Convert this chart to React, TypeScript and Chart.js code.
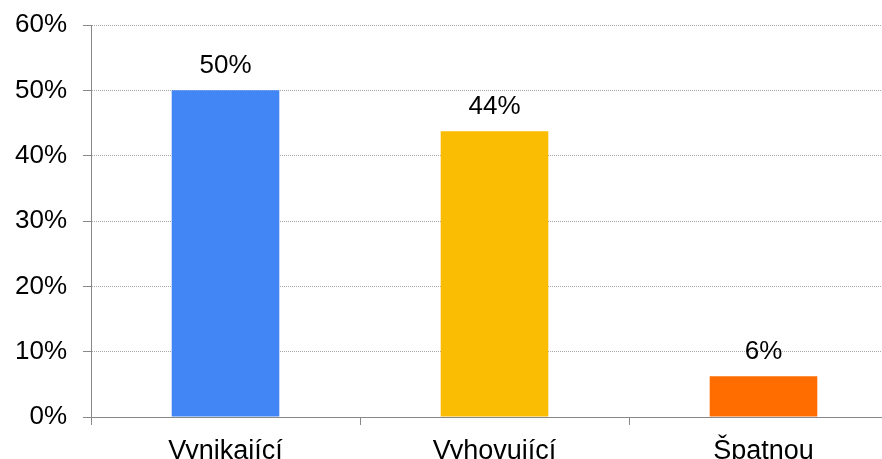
import React, { useEffect, useRef } from "react";
import { Chart, registerables } from "chart.js";

Chart.register(...registerables);

const categories = ["Vynikající", "Vyhovující", "Špatnou"];
const values = [50, 43.75, 6.25];
const valueLabels = ["50%", "44%", "6%"];
const barColors = ["#4285F4", "#FBBC04", "#FF6D00"];
const yTicks = [0, 10, 20, 30, 40, 50, 60];

const FONT = "'Liberation Sans', Arial, sans-serif";
const W = 898;
const H = 480;

const labelPlugin = {
  id: "valueLabels",
  afterDatasetsDraw(chart: any) {
    const ctx = chart.ctx;
    const meta = chart.getDatasetMeta(0);
    ctx.save();
    ctx.font = `26px ${FONT}`;
    ctx.fillStyle = "#000";
    ctx.textAlign = "center";
    ctx.textBaseline = "alphabetic";
    meta.data.forEach((bar: any, i: number) => {
      ctx.fillText(valueLabels[i], bar.x, bar.y - 17);
    });
    ctx.restore();
  },
};

export default function App() {
  const ref = useRef<HTMLCanvasElement | null>(null);
  useEffect(() => {
    document.body.style.overflow = "hidden";
    const chart = new Chart(ref.current as HTMLCanvasElement, {
      type: "bar",
      data: {
        labels: categories,
        datasets: [
          {
            data: values,
            backgroundColor: barColors,
            barPercentage: 0.4,
            categoryPercentage: 1,
          },
        ],
      },
      options: {
        responsive: false,
        animation: false,
        devicePixelRatio: 1,
        layout: { padding: { top: 25, left: 0, right: 0, bottom: 0 } },
        plugins: { legend: { display: false }, tooltip: { enabled: false } },
        scales: {
          x: {
            afterFit: (s: any) => {
              s.height = H - 417;
              s.paddingLeft = 0;
              s.paddingRight = 0;
            },
            grid: {
              offset: true,
              drawOnChartArea: false,
              drawTicks: true,
              tickLength: 8,
              color: "#888",
            },
            border: { display: true, color: "#888" },
            ticks: {
              color: "#000",
              font: { family: FONT, size: 27 },
              padding: 10,
              maxRotation: 0,
            },
          },
          y: {
            min: 0,
            max: 60,
            afterFit: (s: any) => {
              s.width = 91;
              s.paddingTop = 0;
              s.paddingBottom = 0;
            },
            afterBuildTicks: (s: any) => {
              s.ticks = yTicks.map((v) => ({ value: v }));
            },
            grid: {
              color: "#a8a8a8",
              tickColor: "#888",
              drawTicks: true,
              tickLength: 8,
              tickBorderDash: [],
            },
            border: { display: true, color: "#888", dash: [1, 1] },
            ticks: {
              color: "#000",
              font: { family: FONT, size: 26 },
              padding: 16,
              callback: (v: any) => `${v}%`,
            },
          },
        },
      },
      plugins: [labelPlugin],
    });
    return () => chart.destroy();
  }, []);
  return (
    <div style={{ position: "absolute", left: 0, top: 0, width: W, height: H }}>
      <canvas ref={ref} width={W} height={H} style={{ width: W, height: H }} />
    </div>
  );
}
